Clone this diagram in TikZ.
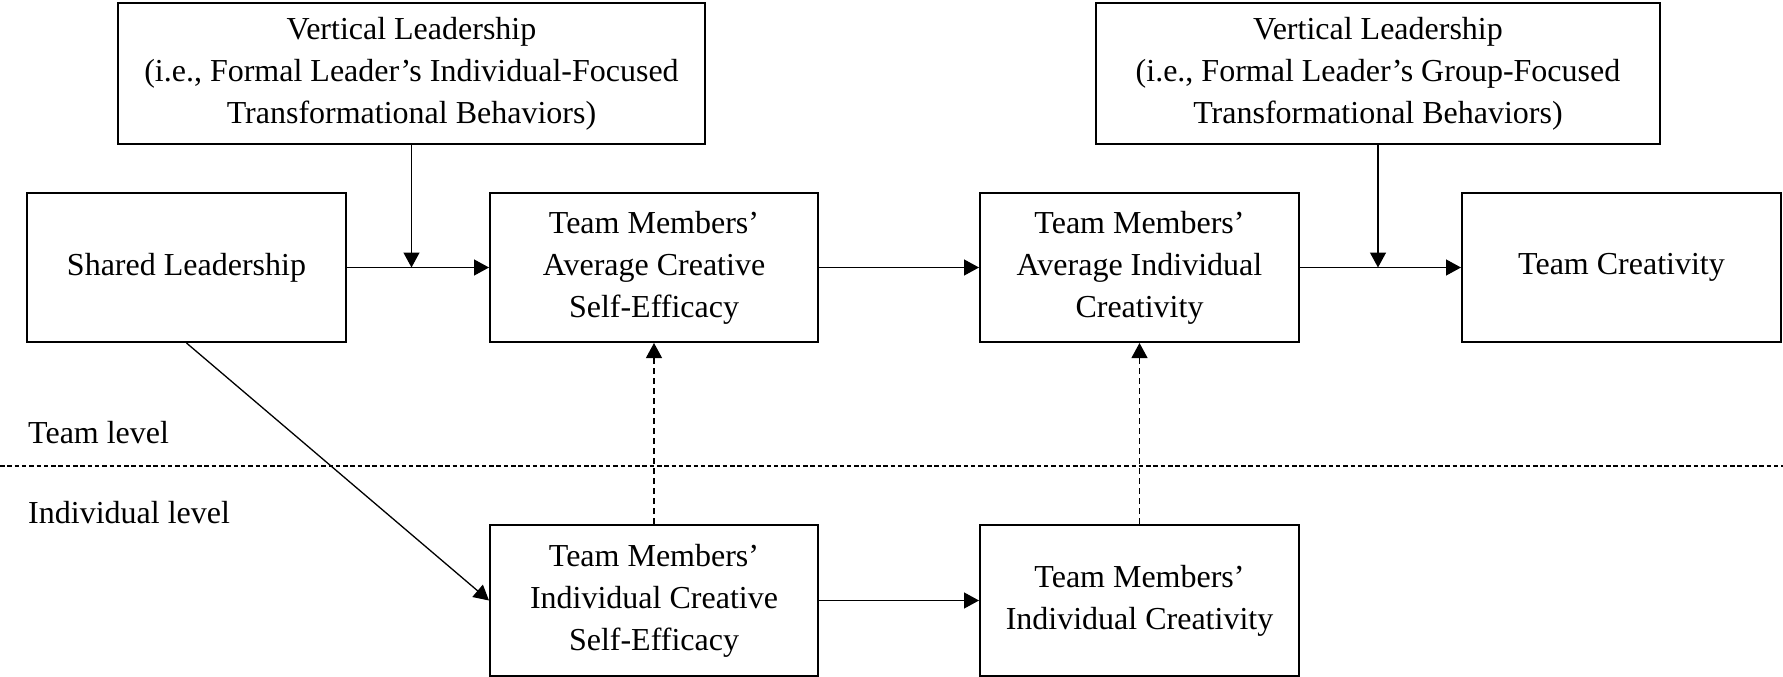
\documentclass[tikz,border=0pt]{standalone}
\usepackage{fontspec}
\setmainfont{Liberation Serif}
\usetikzlibrary{arrows.meta}
\begin{document}
\begin{tikzpicture}[x=1pt,y=-1pt,
  box/.style={draw,line width=2pt,align=center,inner sep=0pt,
    font=\fontsize{32}{42}\selectfont},
  arr/.style={line width=1.3pt,-{Triangle[length=15pt,width=16pt]}},
  darr/.style={arr,line width=1.1pt,dash pattern=on 6pt off 4pt},
  lvl/.style={anchor=west,inner sep=0pt,font=\fontsize{32}{42}\selectfont}]
\useasboundingbox (0,0) rectangle (1783,677);
\node[box,minimum width=587pt,minimum height=141pt] (VL1) at (411.5,73.5)
  {Vertical Leadership\\(i.e., Formal Leader’s Individual-Focused\\Transformational Behaviors)};
\node[box,minimum width=564pt,minimum height=141pt] (VL2) at (1378,73.5)
  {Vertical Leadership\\(i.e., Formal Leader’s Group-Focused\\Transformational Behaviors)};
\node[box,minimum width=319pt,minimum height=149pt] (SL) at (186.5,267.5) {Shared Leadership};
\node[box,minimum width=328pt,minimum height=149pt] (ACSE) at (654,267.5)
  {Team Members’\\Average Creative\\Self-Efficacy};
\node[box,minimum width=319pt,minimum height=149pt] (AIC) at (1139.5,267.5)
  {Team Members’\\Average Individual\\Creativity};
\node[box,minimum width=319pt,minimum height=149pt] (TC) at (1621.5,267.5) {Team Creativity};
\node[box,minimum width=328pt,minimum height=151pt] (ICSE) at (654,600.5)
  {Team Members’\\Individual Creative\\Self-Efficacy};
\node[box,minimum width=319pt,minimum height=151pt] (IC) at (1139.5,600.5)
  {Team Members’\\Individual Creativity};
\node[lvl] (TL) at (28,433) {Team level};
\node[lvl] (IL) at (28,513) {Individual level};
\coordinate (DL) at (0,466);
\coordinate (DR) at (1783,466);
\draw[line width=1.3pt,dash pattern=on 4.5pt off 2.8pt] (DL) -- (DR);
\draw[arr] (SL.east) -- (ACSE.west);
\draw[arr] (ACSE.east) -- (AIC.west);
\draw[arr] (AIC.east) -- (TC.west);
\draw[arr] (VL1.south) -- (VL1.south |- SL.east);
\draw[arr] (VL2.south) -- (VL2.south |- TC.west);
\draw[arr] (SL.south) -- (ICSE.west);
\draw[arr] (ICSE.east) -- (IC.west);
\draw[darr] (ICSE.north) -- (ACSE.south);
\draw[darr] (IC.north) -- (AIC.south);
\end{tikzpicture}
\end{document}
